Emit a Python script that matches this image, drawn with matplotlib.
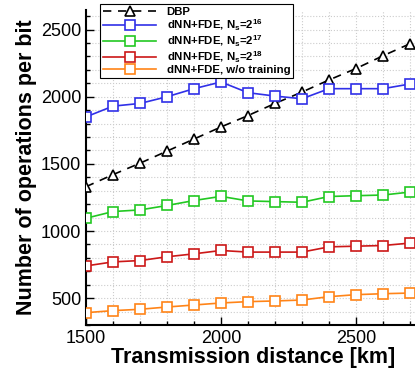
import numpy as np
import matplotlib
matplotlib.use("Agg")
import matplotlib.pyplot as plt
import matplotlib.ticker as ticker

plt.rcParams['font.family'] = ['Liberation Sans', 'DejaVu Sans']
plt.rcParams['mathtext.fontset'] = 'custom'
plt.rcParams['mathtext.rm'] = 'Liberation Sans:bold'
plt.rcParams['mathtext.it'] = 'Liberation Sans:bold'
plt.rcParams['mathtext.bf'] = 'Liberation Sans:bold'

distance = [1500, 1600, 1700, 1800, 1900, 2000, 2100, 2200, 2300, 2400, 2500, 2600, 2700]
dbp = [1330, 1420, 1505, 1595, 1685, 1775, 1860, 1950, 2035, 2125, 2210, 2305, 2395]
ns16 = [1850, 1930, 1950, 2000, 2060, 2110, 2030, 2005, 1985, 2060, 2060, 2060, 2095]
ns17 = [1095, 1145, 1157, 1190, 1227, 1258, 1224, 1219, 1214, 1257, 1263, 1268, 1290]
ns18 = [740, 770, 780, 808, 830, 855, 843, 843, 843, 882, 887, 892, 910]
no_train = [392, 407, 417, 434, 449, 464, 474, 479, 486, 511, 526, 533, 538]

labels = ['DBP',
          r'dNN+FDE, N$_{s}$=2$^{16}$',
          r'dNN+FDE, N$_{s}$=2$^{17}$',
          r'dNN+FDE, N$_{s}$=2$^{18}$',
          'dNN+FDE, w/o training']

W, H = 415, 374
fig = plt.figure(figsize=(W / 100, H / 100), dpi=100)
ax = fig.add_axes([86 / W, 1 - 325 / H, (420 - 86) / W, (325 - 10) / H])

ms = 6.5
ax.plot(distance, dbp, color='black', ls=(0, (5, 4)), lw=1.2, marker='^',
        ms=ms, mfc='white', mec='black', mew=1.2, label=labels[0], zorder=3)
ax.plot(distance, ns16, color='#3030e8', lw=1.2, marker='s', ms=ms,
        mfc='white', mew=1.2, label=labels[1], zorder=3)
ax.plot(distance, ns17, color='#22c822', lw=1.2, marker='s', ms=ms,
        mfc='white', mew=1.2, label=labels[2], zorder=3)
ax.plot(distance, ns18, color='#cc1818', lw=1.2, marker='s', ms=ms,
        mfc='white', mew=1.2, label=labels[3], zorder=3)
ax.plot(distance, no_train, color='#ff8418', lw=1.2, marker='s', ms=ms,
        mfc='white', mew=1.2, label=labels[4], zorder=3)

ax.set_xlim(1500, 1500 + (420 - 86) / 0.27)
ax.set_ylim(300, 2646)
ax.xaxis.set_major_locator(ticker.MultipleLocator(500))
ax.xaxis.set_minor_locator(ticker.MultipleLocator(100))
ax.yaxis.set_major_locator(ticker.MultipleLocator(500))
ax.yaxis.set_minor_locator(ticker.MultipleLocator(100))
ax.tick_params(which='both', direction='in', labelsize=13, width=1)
ax.tick_params(which='major', length=6)
ax.tick_params(which='minor', length=3)
ax.grid(which='both', color='#cccccc', ls=':', lw=0.8)
for s in ['top', 'right']:
    ax.spines[s].set_visible(False)
for s in ['left', 'bottom']:
    ax.spines[s].set_linewidth(1.5)

ax.set_xlabel('Transmission distance [km]', fontsize=15.5, fontweight='bold', labelpad=0)
ax.set_ylabel('Number of operations per bit', fontsize=15.5, fontweight='bold', labelpad=3)

leg = fig.legend(loc='lower left', bbox_to_anchor=(100 / W, 1 - 78 / H),
                 prop={'weight': 'bold', 'size': 8.2}, handlelength=4.7,
                 fancybox=False, framealpha=1, edgecolor='black',
                 borderpad=0.25, labelspacing=0.05, handletextpad=0.9,
                 borderaxespad=0)
leg.get_frame().set_linewidth(0.8)

plt.savefig('out.png', dpi=100)
